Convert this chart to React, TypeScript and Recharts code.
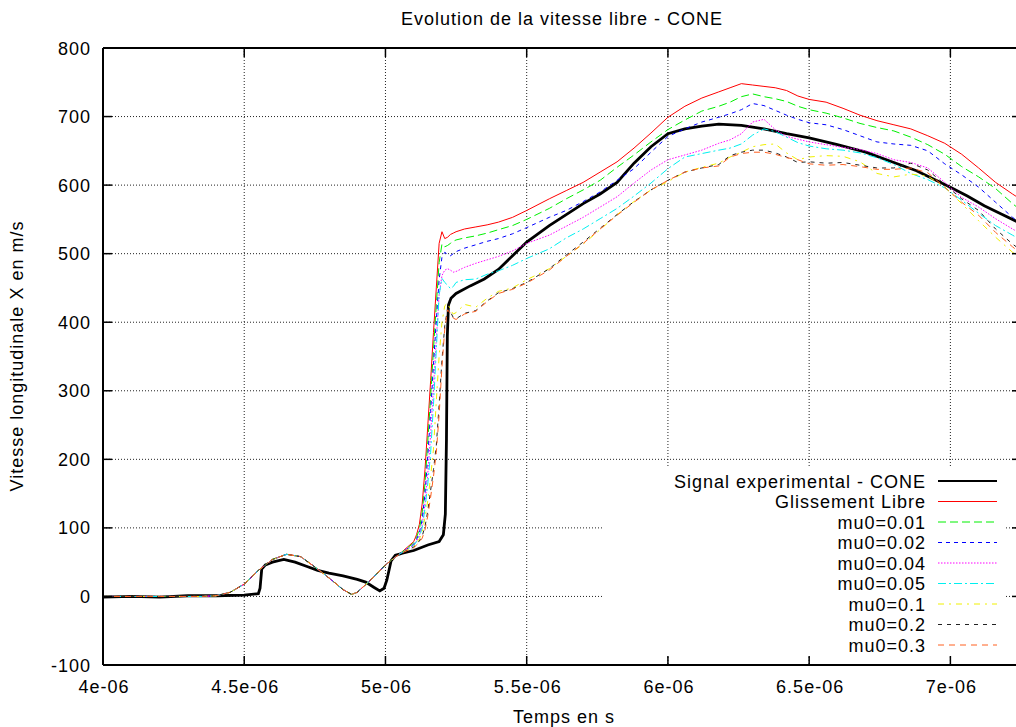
import React from 'react';
import { CartesianGrid, Legend, Line, LineChart, ReferenceLine, XAxis, YAxis } from 'recharts';

const FONT = '"Liberation Sans", Arial, Helvetica, sans-serif';

// frame of the plot, in page pixels
const PLOT_LEFT = 103;
const PLOT_TOP = 48;
const PLOT_RIGHT = 1021;
const PLOT_BOTTOM = 665;

// time is kept in microseconds, labels are written in seconds like gnuplot does
const xTicks = [4, 4.5, 5, 5.5, 6, 6.5, 7];
const xTickLabels = ['4e-06', '4.5e-06', '5e-06', '5.5e-06', '6e-06', '6.5e-06', '7e-06'];
const yTicks = [-100, 0, 100, 200, 300, 400, 500, 600, 700, 800];

// experimental signal
const expTime = [
  4.0, 4.1, 4.2, 4.3, 4.4, 4.5, 4.55, 4.556, 4.562, 4.575, 4.6, 4.64, 4.68, 4.72, 4.76, 4.8,
  4.85, 4.9, 4.93, 4.96, 4.98, 4.995, 5.005, 5.02, 5.035, 5.06, 5.1, 5.15, 5.19, 5.205, 5.212,
  5.216, 5.219, 5.223, 5.232, 5.25, 5.3, 5.35, 5.4, 5.45, 5.5, 5.58, 5.64, 5.7, 5.76, 5.82,
  5.88, 5.94, 6.0, 6.06, 6.12, 6.18, 6.26, 6.34, 6.42, 6.5, 6.6, 6.7, 6.8, 6.88, 6.94, 7.0,
  7.06, 7.12, 7.18, 7.25,
];
const expSpeed = [
  -1, 0, -1, 1, 1, 2, 4, 12, 40, 46, 50, 54, 50, 44, 38, 34,
  30, 25, 21, 13, 8, 12, 24, 52, 60, 63, 67, 75, 80, 90, 120,
  230, 380, 425, 435, 442, 453, 463, 477, 497, 517, 541, 557, 573, 587, 604,
  632, 656, 675, 682, 686, 689, 687, 682, 675, 669, 659, 648, 633, 621, 609, 597,
  584, 570, 558, 544,
];

// simulations share one time grid
const simTime = [
  4.0, 4.2, 4.35, 4.4, 4.45, 4.5, 4.55, 4.6, 4.65, 4.7, 4.75, 4.8, 4.85, 4.88, 4.9, 4.95, 5.0, 5.05,
  5.1, 5.11, 5.12, 5.13, 5.14, 5.15, 5.16, 5.17, 5.18, 5.19, 5.2, 5.21, 5.22, 5.23, 5.24, 5.25,
  5.28, 5.32, 5.36, 5.4, 5.45, 5.5, 5.58,
  5.64, 5.7, 5.76, 5.82, 5.88, 5.94, 6.0,
  6.06, 6.12, 6.18, 6.22, 6.26, 6.3, 6.34, 6.38, 6.42, 6.46, 6.5,
  6.56, 6.62, 6.68, 6.74, 6.8, 6.86, 6.92, 6.98,
  7.04, 7.1, 7.16, 7.22, 7.25,
];
// all simulated curves lie on top of each other up to 5.05e-06
const simStart = [0, 0, 0, 1, 6, 18, 38, 54, 61.5, 58, 43, 27, 10, 3, 6, 25, 46, 62];

const glissementLibre = [...simStart,
  80, 90, 105, 135, 185, 250, 315, 385, 450, 515, 532, 522, 524, 528, 530, 532,
  536, 539, 542, 546, 553, 563, 580,
  592, 604, 619, 634, 654, 676, 699,
  715, 727, 736, 742, 748, 746, 744, 742, 738, 730, 725,
  721, 712, 702, 694, 688, 682, 672, 661,
  645, 625, 604, 587, 579];
const mu001 = [...simStart,
  78, 86, 98, 122, 165, 227, 292, 360, 425, 487, 514, 510, 512, 515, 518, 520,
  523, 526, 530, 535, 541, 550, 566,
  580, 593, 607, 626, 644, 663, 681,
  695, 708, 715, 721, 729, 733, 729, 726, 722, 715, 710,
  705, 698, 690, 684, 679, 670, 659, 645,
  627, 612, 595, 573, 563];
const mu002 = [...simStart,
  76, 83, 93, 112, 150, 205, 270, 338, 403, 462, 495, 502, 499, 497, 500, 503,
  508, 513, 518, 522, 529, 538, 553,
  563, 576, 590, 607, 624, 648, 671,
  682, 692, 699, 704, 710, 719, 716, 709, 702, 696, 691,
  688, 681, 672, 663, 660, 658, 650, 631,
  615, 597, 575, 553, 544];
const mu004 = [...simStart,
  75, 81, 89, 104, 135, 180, 237, 305, 375, 440, 468, 476, 478, 476, 473, 474,
  480, 486, 491, 496, 504, 515, 527,
  540, 553, 568, 583, 603, 622, 637,
  644, 651, 661, 666, 675, 692, 696, 681, 671, 667, 663,
  659, 655, 652, 646, 637, 633, 625, 604,
  582, 568, 551, 536, 529];
const mu005 = [...simStart,
  74, 80, 87, 100, 128, 165, 210, 280, 360, 440, 464, 458, 454, 449, 452, 458,
  462, 463, 470, 475, 483, 493, 507,
  523, 536, 551, 566, 584, 603, 624,
  641, 646, 651, 654, 660, 673, 682, 678, 670, 662, 657,
  653, 651, 647, 640, 630, 617, 608, 596,
  578, 559, 541, 527, 520];
const mu01 = [...simStart,
  73, 78, 84, 94, 115, 140, 175, 215, 285, 350, 400, 424, 428, 418, 412, 414,
  426, 422, 435, 445, 450, 462, 478,
  496, 514, 535, 557, 576, 593, 605,
  619, 626, 632, 641, 648, 656, 659, 660, 647, 637, 641,
  643, 642, 634, 617, 612, 616, 613, 597,
  573, 548, 524, 502, 495];
const mu02 = [...simStart,
  72, 76, 81, 88, 102, 125, 155, 185, 220, 280, 345, 395, 420, 415, 407, 405,
  413, 417, 431, 443, 449, 458, 478,
  498, 517, 537, 557, 576, 593, 607,
  619, 625, 630, 643, 648, 651, 651, 647, 641, 633, 634,
  632, 633, 629, 625, 625, 632, 622, 601,
  580, 563, 536, 514, 505];
const mu03 = [...simStart,
  71, 75, 79, 85, 97, 118, 145, 175, 210, 265, 335, 390, 418, 413, 406, 404,
  412, 416, 430, 442, 448, 457, 476,
  496, 515, 536, 556, 575, 593, 607,
  619, 625, 628, 641, 646, 648, 648, 645, 640, 637, 631,
  629, 630, 627, 623, 623, 625, 618, 597,
  575, 556, 531, 510, 500];

const expTable = expTime.map((t, i) => ({ t, v: expSpeed[i] }));
const simTable = simTime.map((t, i) => ({
  t,
  libre: glissementLibre[i],
  mu001: mu001[i],
  mu002: mu002[i],
  mu004: mu004[i],
  mu005: mu005[i],
  mu01: mu01[i],
  mu02: mu02[i],
  mu03: mu03[i],
}));

const series = [
  { key: 'v', name: 'Signal experimental - CONE', color: '#000000', width: 2.8, dash: undefined, exp: true },
  { key: 'libre', name: 'Glissement Libre', color: '#ff0000', width: 1, dash: undefined },
  { key: 'mu001', name: 'mu0=0.01', color: '#00f000', width: 1, dash: '8 4' },
  { key: 'mu002', name: 'mu0=0.02', color: '#0000ff', width: 1, dash: '4 4' },
  { key: 'mu004', name: 'mu0=0.04', color: '#ff00ff', width: 1, dash: '1.5 1.5' },
  { key: 'mu005', name: 'mu0=0.05', color: '#00f0f0', width: 1, dash: '8 3 2 3' },
  { key: 'mu01', name: 'mu0=0.1', color: '#f0f000', width: 1, dash: '6 5 2 5' },
  { key: 'mu02', name: 'mu0=0.2', color: '#222222', width: 1, dash: '4 5' },
  { key: 'mu03', name: 'mu0=0.3', color: '#ff6020', width: 1, dash: '6 5' },
];

const textStyle = { fontFamily: FONT, fontSize: 18, letterSpacing: 1, fill: '#000' };

const XTick = (props: any) => {
  const { x, payload } = props;
  const label = xTickLabels[xTicks.indexOf(payload.value)];
  return (
    <g>
      <line x1={x} x2={x} y1={PLOT_BOTTOM} y2={PLOT_BOTTOM - 9} stroke="#000" strokeWidth={1.5} />
      <line x1={x} x2={x} y1={PLOT_TOP} y2={PLOT_TOP + 9} stroke="#000" strokeWidth={1.5} />
      <text x={x + 1} y={693} textAnchor="middle" style={textStyle}>
        {label}
      </text>
    </g>
  );
};

const YTick = (props: any) => {
  const { y, payload } = props;
  return (
    <g>
      <line x1={PLOT_LEFT} x2={PLOT_LEFT + 9} y1={y} y2={y} stroke="#000" strokeWidth={1.5} />
      <line x1={PLOT_RIGHT} x2={PLOT_RIGHT - 9} y1={y} y2={y} stroke="#000" strokeWidth={1.5} />
      <text x={91} y={y + 6.5} textAnchor="end" style={textStyle}>
        {payload.value}
      </text>
    </g>
  );
};

const KEY_W = 402;
const KEY_H = 187;

const KeyBox = () => (
  <svg width={KEY_W} height={KEY_H} style={{ display: 'block' }}>
    <rect x={0} y={0} width={KEY_W} height={KEY_H} fill="#fff" />
    {series.map((s, i) => {
      const cy = 13 + i * 20.5;
      return (
        <g key={s.key}>
          <text x={323} y={cy + 6.5} textAnchor="end" style={textStyle}>
            {s.name}
          </text>
          <line
            x1={335}
            x2={394}
            y1={cy}
            y2={cy}
            stroke={s.color}
            strokeWidth={s.exp ? 2 : 1}
            strokeDasharray={s.dash}
          />
        </g>
      );
    })}
  </svg>
);

const App = () => {
  return (
    <div
      style={{
        position: 'fixed',
        left: 0,
        top: 0,
        width: 1016,
        height: 727,
        overflow: 'hidden',
        background: '#fff',
      }}
    >
      <LineChart
        width={1040}
        height={727}
        margin={{ top: PLOT_TOP, right: 1040 - PLOT_RIGHT, bottom: 727 - PLOT_BOTTOM - 30, left: PLOT_LEFT - 60 }}
      >
        <CartesianGrid stroke="#222" strokeDasharray="1 2" />
        <XAxis
          type="number"
          dataKey="t"
          domain={[4, 7.25]}
          ticks={xTicks}
          interval={0}
          allowDataOverflow
          height={30}
          tick={<XTick />}
          tickLine={false}
          axisLine={{ stroke: '#000', strokeWidth: 2 }}
        />
        <YAxis
          type="number"
          domain={[-100, 800]}
          ticks={yTicks}
          interval={0}
          allowDataOverflow
          width={60}
          tick={<YTick />}
          tickLine={false}
          axisLine={{ stroke: '#000', strokeWidth: 2 }}
        />
        <ReferenceLine y={800} stroke="#000" strokeWidth={2} />
        <ReferenceLine x={7.25} stroke="#000" strokeWidth={2} />
        {series.map((s) => (
          <Line
            key={s.key}
            data={s.exp ? expTable : simTable}
            dataKey={s.key}
            name={s.name}
            type="linear"
            stroke={s.color}
            strokeWidth={s.width}
            strokeDasharray={s.dash}
            dot={false}
            activeDot={false}
            isAnimationActive={false}
          />
        ))}
        <Legend
          content={<KeyBox />}
          layout="horizontal"
          verticalAlign="middle"
          align="center"
          wrapperStyle={{ left: 603, top: 468, width: KEY_W, height: KEY_H }}
        />
        <text x={562} y={25} textAnchor="middle" style={textStyle}>
          Evolution de la vitesse libre - CONE
        </text>
        <text x={564} y={723} textAnchor="middle" style={textStyle}>
          Temps en s
        </text>
        <text transform="translate(23,356) rotate(-90)" textAnchor="middle" style={textStyle}>
          Vitesse longitudinale X en m/s
        </text>
      </LineChart>
    </div>
  );
};

export default App;
